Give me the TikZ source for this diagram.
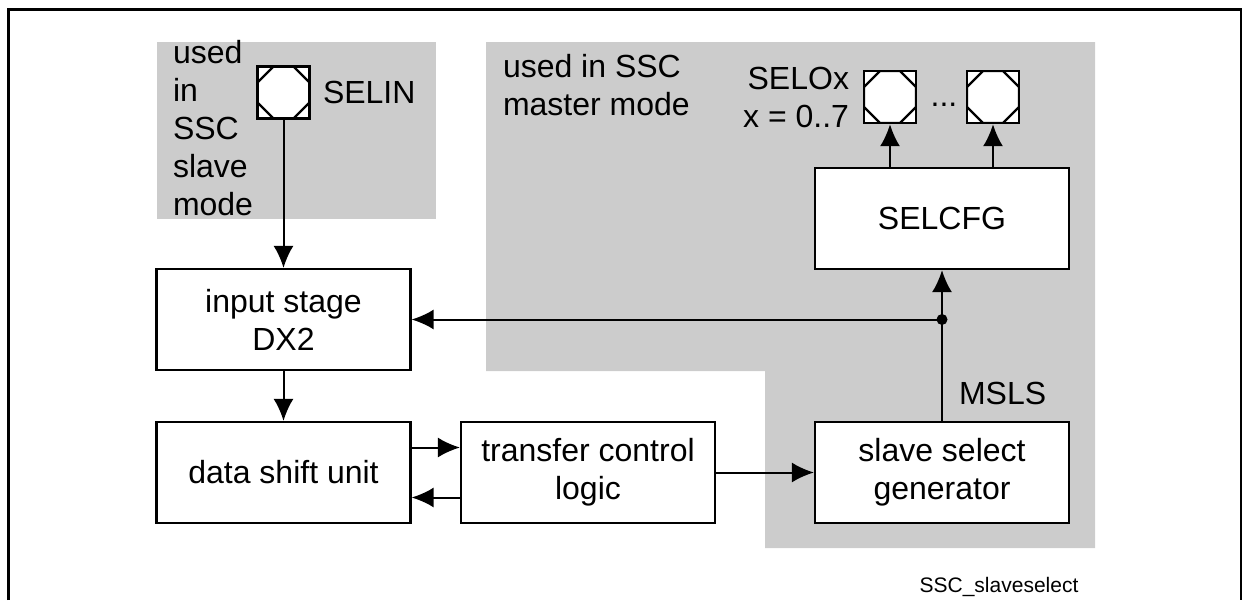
\documentclass[tikz,border=0pt]{standalone}
\usepackage{fontspec}
\setmainfont{Liberation Sans}
\usetikzlibrary{arrows.meta}

\definecolor{zonegray}{RGB}{204,204,204}
\newcommand\ppbb{path picture bounding box}

\begin{document}
\begin{tikzpicture}[x=0.5pt,y=-0.5pt,>={Latex[length=11pt,width=10pt]},
    line width=1pt,
    font=\fontsize{16}{19}\selectfont,
    block/.style={draw,line width=1.1pt,fill=white,align=center,
        minimum width=127pt,minimum height=50.5pt,inner sep=0pt},
    pad/.style={draw,line width=1.2pt,fill=white,minimum size=26pt,
        inner sep=0pt,path picture={
        \draw[line width=1.1pt]
            ([xshift=8pt]\ppbb.north west) -- ([xshift=-8pt]\ppbb.north east)
            -- ([yshift=-8pt]\ppbb.north east) -- ([yshift=8pt]\ppbb.south east)
            -- ([xshift=-8pt]\ppbb.south east) -- ([xshift=8pt]\ppbb.south west)
            -- ([yshift=8pt]\ppbb.south west) -- ([yshift=-8pt]\ppbb.north west)
            -- cycle;}},
    joint/.style={circle,fill=black,minimum size=5.5pt,inner sep=0pt},
    label/.style={inner sep=0pt}]

\useasboundingbox (0,0) rectangle (1242,600);

% Mode areas
\fill[zonegray] (157,42) rectangle (436,219);
\fill[zonegray] (486,42) -- (1095,42) -- (1095,548) -- (765,548)
    -- (765,371) -- (486,371) -- cycle;

% Frame
\draw[line width=1.5pt] (8,600) -- (8,9) -- (1241,9) -- (1241,600);

% Blocks
\node[block] (dx2) at (283.5,319.5) {input stage\\DX2};
\node[block] (dsu) at (283.5,472.5) {data shift unit};
\node[block] (tcl) at (588,472.5) {transfer control\\logic};
\node[block] (ssg) at (942,472.5) {slave select\\generator};
\node[block] (selcfg) at (942,218.5) {SELCFG};

% Pins
\node[pad] (selin) at (283.5,92.5) {};
\node[pad] (selo1) at (890,97) {};
\node[pad] (selo2) at (993,97) {};
\node[joint] (jn) at (942,319.5) {};

% Connections
\draw[->] (selin.south) -- (dx2.north);
\draw[->] (dx2.south) -- (dsu.north);
\draw[->] ([yshift=12.5pt]dsu.east) -- ([yshift=12.5pt]tcl.west);
\draw[->] ([yshift=-12.5pt]tcl.west) -- ([yshift=-12.5pt]dsu.east);
\draw[->] (tcl.east) -- (ssg.west);
\draw[->] (ssg.north) -- (selcfg.south);
\draw[->] (jn.center) -- (jn -| dx2.east);
\draw[->] (selcfg.north -| selo1) -- (selo1.south);
\draw[->] (selcfg.north -| selo2) -- (selo2.south);

% Labels
\node[label,anchor=west,align=left] (slavetxt) at (172,128)
    {used\\in\\SSC\\slave\\mode};
\node[label,anchor=west] (selinlbl) at (322,92) {SELIN};
\node[label,anchor=west,align=left] (mastertxt) at (502,85)
    {used in SSC\\master mode};
\node[label,anchor=east,align=right] (seloxlbl) at (850,97)
    {SELOx\\x = 0..7};
\node[label] (dots) at (944,105) {...};
\node[label,anchor=west] (msls) at (958,393) {MSLS};
\node[label,font=\fontsize{10.5}{12}\selectfont] (figname) at (999,587)
    {SSC\_slaveselect};

\end{tikzpicture}
\end{document}
